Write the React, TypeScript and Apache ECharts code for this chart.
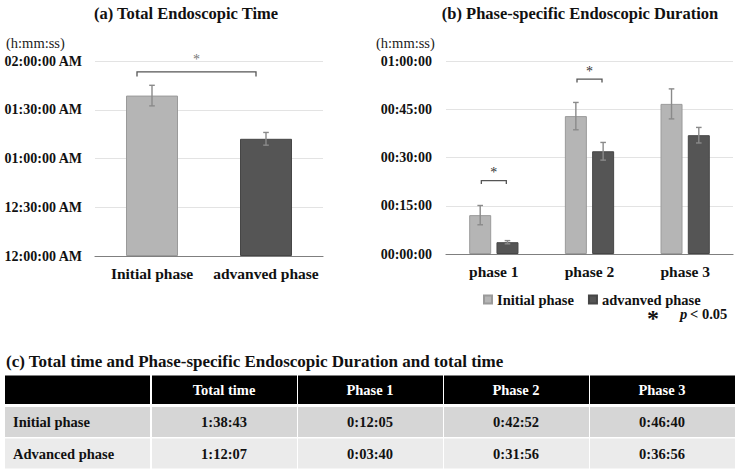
import React, { useEffect, useRef } from 'react';
import * as echarts from 'echarts';

const FONT = 'Liberation Serif, Times New Roman, serif';

// (a) total endoscopic time, in seconds
const groupsA = ['Initial phase', 'advanved phase'];
const totalSeconds = [5923, 4327];
const totalErr = [380, 235];

// (b) phase-specific duration, in seconds
const phases = ['phase 1', 'phase 2', 'phase 3'];
const initialPhaseSec = [725, 2572, 2800];
const advancedPhaseSec = [220, 1916, 2216];
const initialPhaseErr = [180, 255, 280];
const advancedPhaseErr = [30, 165, 145];

// significance brackets: [fromCategory, toCategory, level (s)] for (a); [category, level (s)] for (b)
const sigA = [[0, 1, 6796]];
const sigB = [[0, 1370], [1, 3262]];

// table
const tableHeader = ['', 'Total time', 'Phase 1', 'Phase 2', 'Phase 3'];
const tableRows = ['Initial phase', 'Advanced phase'];

const LIGHT = '#b5b5b5';
const LIGHT_BORDER = '#9a9a9a';
const DARK = '#555555';
const DARK_BORDER = '#464646';
const ERR = '#8a8a8a';

const pad = (n: number) => String(n).padStart(2, '0');
const fmtClock = (s: number) => {
  const h = Math.floor(s / 3600);
  const m = Math.floor((s % 3600) / 60);
  const sec = Math.round(s % 60);
  const h12 = h % 12 === 0 ? 12 : h % 12;
  return `${pad(h12)}:${pad(m)}:${pad(sec)} ${h < 12 ? 'AM' : 'PM'}`;
};
const fmtDuration = (s: number) => {
  const h = Math.floor(s / 3600);
  const m = Math.floor((s % 3600) / 60);
  const sec = Math.round(s % 60);
  return `${pad(h)}:${pad(m)}:${pad(sec)}`;
};
const fmtCell = (s: number) => {
  const h = Math.floor(s / 3600);
  const m = Math.floor((s % 3600) / 60);
  const sec = Math.round(s % 60);
  return `${h}:${pad(m)}:${pad(sec)}`;
};

const txt = (size: number, weight: string = 'normal', style: string = 'normal') => ({
  fontFamily: FONT,
  fontSize: size,
  fontWeight: weight,
  fontStyle: style,
});

const errorBar = (offset: number) => (_p: any, api: any) => {
  const x = api.value(0);
  const v = api.value(1);
  const e = api.value(2);
  const hi = api.coord([x, v + e]);
  const lo = api.coord([x, v - e]);
  const cx = hi[0] + offset;
  const cap = 2.8;
  const style = { stroke: ERR, lineWidth: 1.4 };
  return {
    type: 'group',
    children: [
      { type: 'line', shape: { x1: cx, y1: hi[1], x2: cx, y2: lo[1] }, style },
      { type: 'line', shape: { x1: cx - cap, y1: hi[1], x2: cx + cap, y2: hi[1] }, style },
      { type: 'line', shape: { x1: cx - cap, y1: lo[1], x2: cx + cap, y2: lo[1] }, style },
    ],
  };
};

const bracket = (x1: number, x2: number, y: number, drop: number, starGap: number, starColor: string) => ({
  type: 'group',
  children: [
    {
      type: 'polyline',
      shape: { points: [[x1, y + drop], [x1, y], [x2, y], [x2, y + drop]] },
      style: { stroke: '#555', lineWidth: 1.3, fill: 'none' },
    },
    {
      type: 'text',
      x: (x1 + x2) / 2,
      y: y - starGap,
      style: { text: '*', ...txt(14), fill: starColor, align: 'center', verticalAlign: 'middle' },
    },
  ],
});

export default function App() {
  const ref = useRef<HTMLDivElement>(null);

  useEffect(() => {
    const chart = echarts.init(ref.current!, null, { renderer: 'svg' });

    const tableLeft = 5;
    const colW = 146;
    const rowTops = [375.5, 407, 438.5];
    const rowHs = [28.5, 30, 30];
    const rowFills = ['#000000', '#d6d6d6', '#ebebeb'];
    const cells: any[] = [];
    const rowValues = [
      [totalSeconds[0], ...initialPhaseSec],
      [totalSeconds[1], ...advancedPhaseSec],
    ];
    for (let r = 0; r < 3; r++) {
      for (let c = 0; c < 5; c++) {
        const x = tableLeft + c * colW;
        cells.push({
          type: 'rect',
          shape: { x: x + (c === 0 ? 0 : 1), y: rowTops[r], width: colW - 1, height: rowHs[r] },
          style: { fill: rowFills[r] },
          silent: true,
        });
        let text = '';
        if (r === 0) text = tableHeader[c];
        else if (c === 0) text = tableRows[r - 1];
        else text = fmtCell(rowValues[r - 1][c - 1]);
        if (!text) continue;
        cells.push({
          type: 'text',
          x: c === 0 ? x + 8 : x + colW / 2,
          y: rowTops[r] + rowHs[r] / 2,
          style: {
            text,
            ...txt(14.5, 'bold'),
            fill: r === 0 ? '#fff' : '#111',
            align: c === 0 ? 'left' : 'center',
            verticalAlign: 'middle',
          },
          silent: true,
        });
      }
    }

    const axisLabelStyle = { fontFamily: FONT, fontWeight: 'bold' as const, fontSize: 14, color: '#111' };
    const catLabelStyle = { fontFamily: FONT, fontWeight: 'bold' as const, fontSize: 15.5, color: '#111' };

    const option: any = {
      animation: false,
      backgroundColor: '#fff',
      textStyle: { fontFamily: FONT },
      title: [
        {
          text: '(a) Total Endoscopic Time',
          left: 181,
          top: 0,
          textAlign: 'center',
          textStyle: { fontFamily: FONT, fontWeight: 'bold', fontSize: 16.5, color: '#111' },
        },
        {
          text: '(b) Phase-specific Endoscopic Duration',
          left: 575,
          top: 0,
          textAlign: 'center',
          textStyle: { fontFamily: FONT, fontWeight: 'bold', fontSize: 16.5, color: '#111' },
        },
      ],
      legend: {
        data: ['Initial phase', 'advanved phase'],
        left: 478,
        top: 287,
        icon: 'rect',
        itemWidth: 8,
        itemHeight: 8,
        itemGap: 14,
        textStyle: { fontFamily: FONT, fontWeight: 'bold', fontSize: 14.5, color: '#111' },
      },
      grid: [
        { left: 95, top: 61, width: 228, height: 195 },
        { left: 446, top: 61, width: 287, height: 193 },
      ],
      xAxis: [
        {
          type: 'category',
          gridIndex: 0,
          data: groupsA,
          axisLine: { lineStyle: { color: '#7f7f7f', width: 1.2 } },
          axisTick: { show: false },
          axisLabel: { ...catLabelStyle, margin: 9, interval: 0 },
        },
        {
          type: 'category',
          gridIndex: 1,
          data: phases,
          axisLine: { lineStyle: { color: '#7f7f7f', width: 1.2 } },
          axisTick: { show: false },
          axisLabel: { ...catLabelStyle, margin: 9, interval: 0 },
        },
      ],
      yAxis: [
        {
          type: 'value',
          gridIndex: 0,
          min: 0,
          max: 7200,
          interval: 1800,
          axisLabel: { ...axisLabelStyle, margin: 13, formatter: (v: number) => fmtClock(v) },
          splitLine: { lineStyle: { color: '#e3e3e3', width: 1.2 } },
          axisLine: { show: false },
          axisTick: { show: false },
        },
        {
          type: 'value',
          gridIndex: 1,
          min: 0,
          max: 3600,
          interval: 900,
          axisLabel: { ...axisLabelStyle, margin: 14, formatter: (v: number) => fmtDuration(v) },
          splitLine: { lineStyle: { color: '#e3e3e3', width: 1.2 } },
          axisLine: { show: false },
          axisTick: { show: false },
        },
      ],
      series: [
        {
          name: 'Total time',
          type: 'bar',
          xAxisIndex: 0,
          yAxisIndex: 0,
          barWidth: 52,
          data: totalSeconds.map((v, i) => ({
            value: v,
            itemStyle: {
              color: i === 0 ? LIGHT : DARK,
              borderColor: i === 0 ? LIGHT_BORDER : DARK_BORDER,
              borderWidth: 1,
            },
          })),
        },
        {
          name: 'Total time error',
          type: 'custom',
          xAxisIndex: 0,
          yAxisIndex: 0,
          z: 5,
          renderItem: errorBar(0),
          encode: { x: 0, y: 1 },
          data: totalSeconds.map((v, i) => [i, v, totalErr[i]]),
        },
        {
          name: 'Total time significance',
          type: 'custom',
          xAxisIndex: 0,
          yAxisIndex: 0,
          z: 5,
          encode: { x: 0, y: 2 },
          renderItem: (_p: any, api: any) => {
            const a = api.coord([api.value(0), api.value(2)]);
            const b = api.coord([api.value(1), api.value(2)]);
            return bracket(a[0] - 15, b[0] - 10, a[1], 4.5, 12, '#777');
          },
          data: sigA,
        },
        {
          name: 'Initial phase',
          type: 'bar',
          xAxisIndex: 1,
          yAxisIndex: 1,
          barWidth: 22,
          barGap: '24%',
          itemStyle: { color: LIGHT, borderColor: LIGHT_BORDER, borderWidth: 1 },
          data: initialPhaseSec,
        },
        {
          name: 'advanved phase',
          type: 'bar',
          xAxisIndex: 1,
          yAxisIndex: 1,
          barWidth: 22,
          barGap: '24%',
          itemStyle: { color: DARK, borderColor: DARK_BORDER, borderWidth: 1 },
          data: advancedPhaseSec,
        },
        {
          name: 'Initial phase error',
          type: 'custom',
          xAxisIndex: 1,
          yAxisIndex: 1,
          z: 5,
          renderItem: errorBar(-13.64),
          encode: { x: 0, y: 1 },
          data: initialPhaseSec.map((v, i) => [i, v, initialPhaseErr[i]]),
        },
        {
          name: 'advanved phase error',
          type: 'custom',
          xAxisIndex: 1,
          yAxisIndex: 1,
          z: 5,
          renderItem: errorBar(13.64),
          encode: { x: 0, y: 1 },
          data: advancedPhaseSec.map((v, i) => [i, v, advancedPhaseErr[i]]),
        },
        {
          name: 'Phase significance',
          type: 'custom',
          xAxisIndex: 1,
          yAxisIndex: 1,
          z: 5,
          encode: { x: 0, y: 1 },
          renderItem: (_p: any, api: any) => {
            const p = api.coord([api.value(0), api.value(1)]);
            return bracket(p[0] - 12.5, p[0] + 12.5, p[1], 3.5, 8, '#333');
          },
          data: sigB,
        },
      ],
      graphic: [
        {
          type: 'text',
          left: 6,
          top: 35,
          style: { text: '(h:mm:ss)', ...txt(14.5), fill: '#222' },
        },
        {
          type: 'text',
          left: 376,
          top: 35,
          style: { text: '(h:mm:ss)', ...txt(14.5), fill: '#222' },
        },
        {
          type: 'text',
          x: 653,
          y: 318,
          style: { text: '*', ...txt(24, 'bold'), fill: '#111', align: 'center', verticalAlign: 'middle' },
        },
        {
          type: 'text',
          x: 680,
          y: 314,
          style: { text: 'p', ...txt(14.5, 'bold', 'italic'), fill: '#111', align: 'left', verticalAlign: 'middle' },
        },
        {
          type: 'text',
          x: 690,
          y: 314,
          style: { text: '< 0.05', ...txt(14.5, 'bold'), fill: '#111', align: 'left', verticalAlign: 'middle' },
        },
        {
          type: 'text',
          left: 6,
          top: 353,
          style: {
            text: '(c) Total time and Phase-specific Endoscopic Duration and total time',
            ...txt(17, 'bold'),
            fill: '#111',
          },
        },
        ...cells,
      ],
    };

    chart.setOption(option);
    return () => chart.dispose();
  }, []);

  return (
    <div
      ref={ref}
      style={{ position: 'fixed', left: 0, top: 0, width: 740, height: 470, background: '#fff' }}
    />
  );
}
